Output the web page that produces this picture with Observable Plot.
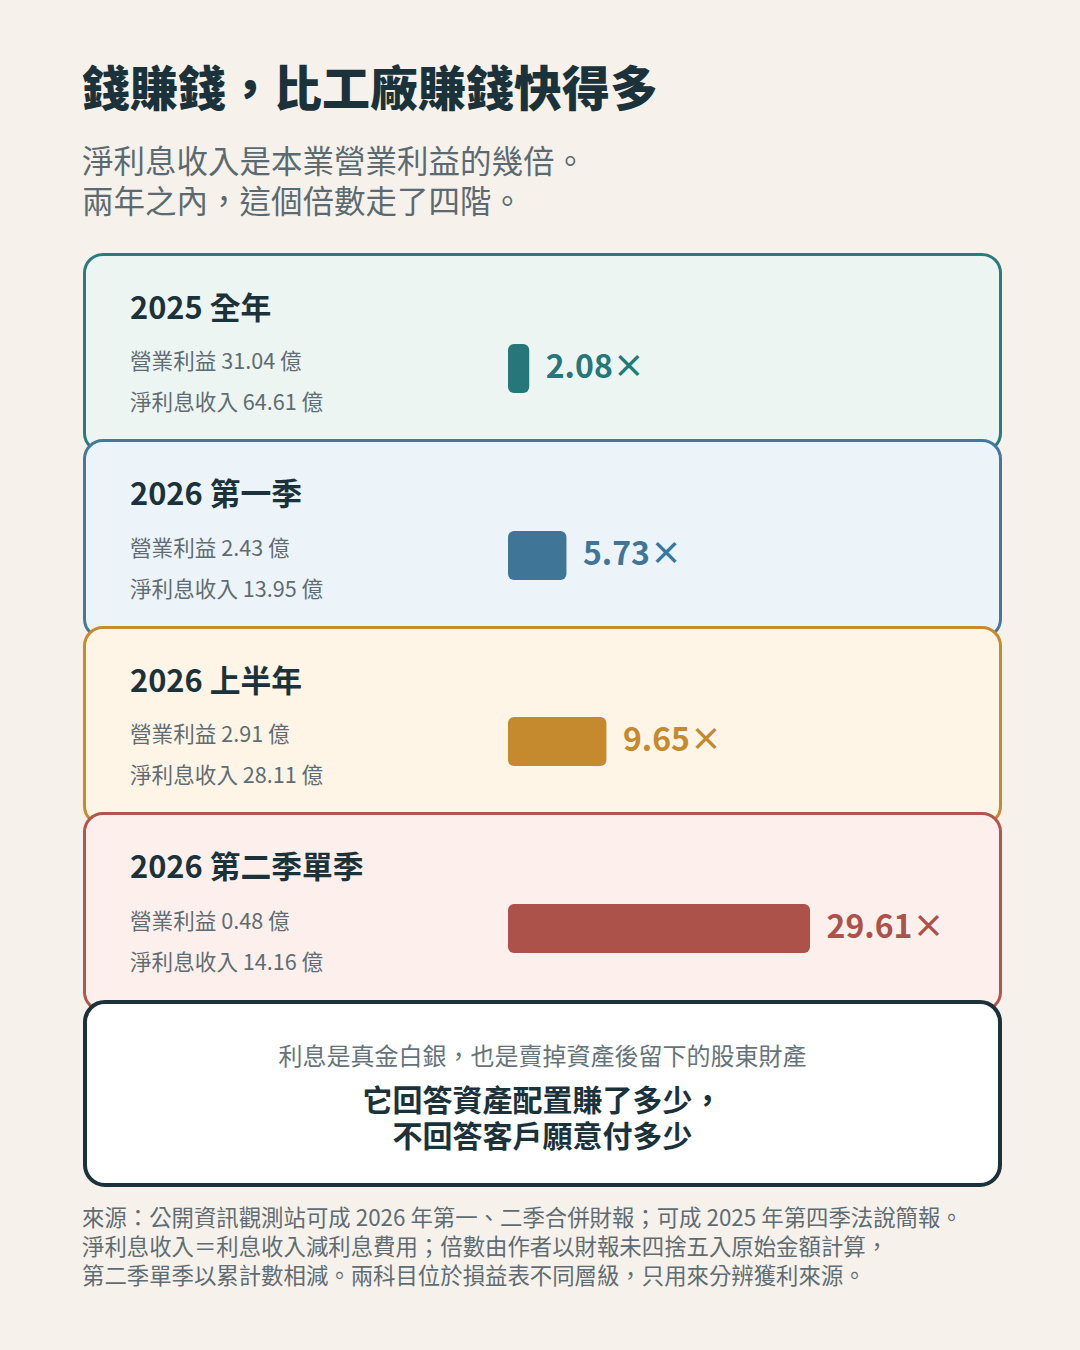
<!DOCTYPE html>
<html lang="zh-Hant">
<head>
<meta charset="utf-8">
<script src="https://cdn.jsdelivr.net/npm/d3@7"></script>
<script src="https://cdn.jsdelivr.net/npm/@observablehq/plot@0.6"></script>
<style>
  html, body { margin: 0; padding: 0; background: #f6f2eb; }
  body { width: 1080px; height: 1350px; position: relative; overflow: hidden;
         font-family: "Noto Sans CJK TC", "Noto Sans", sans-serif; }
  .abs { position: absolute; white-space: nowrap; }
  #title { left: 82px; top: 61px; font-size: 48px; line-height: 48px; font-weight: 900; color: #1b323a; }
  #subtitle { left: 82px; top: 139px; font-size: 31.5px; color: #5b6a71; }
  #subtitle div, #foot div, #final .b div { white-space: nowrap; }
  #subtitle div { height: 40px; line-height: 40px; }
  .card { position: absolute; left: 83px; width: 919px; height: 200px; box-sizing: border-box;
          border: 3px solid; border-radius: 20px; }
  .card .ct { position: absolute; left: 44px; top: 35px; font-size: 30.8px; line-height: 30px; font-weight: 700; color: #1b323a; white-space: nowrap; }
  .card .l1, .card .l2 { position: absolute; left: 44px; font-size: 21.6px; line-height: 22px; color: #5f6c73; white-space: nowrap; }
  .card .l1 { top: 93.5px; }
  .card .l2 { top: 134.5px; }
  .card .plot { position: absolute; left: 422px; top: 88.5px; }
  #final { position: absolute; left: 83px; top: 999.5px; width: 919px; height: 187px; box-sizing: border-box;
           border: 4px solid #1b323a; border-radius: 22px; background: #ffffff; text-align: center; }
  #final .g { position: absolute; left: 0; right: 0; top: 39px; font-size: 24px; line-height: 24px; color: #66737a; }
  #final .b { position: absolute; left: 0; right: 0; top: 76px; font-size: 30px; font-weight: 700; color: #1b323a; }
  #final .b div { height: 36px; line-height: 36px; }
  #foot { left: 82px; top: 1202px; font-size: 22.4px; color: #5f6c73; }
  #foot div { height: 29px; line-height: 29px; }
</style>
</head>
<body>
<div id="title" class="abs">錢賺錢，比工廠賺錢快得多</div>
<div id="subtitle" class="abs"><div>淨利息收入是本業營業利益的幾倍。</div><div>兩年之內，這個倍數走了四階。</div></div>
<div id="cards"></div>
<div id="final">
  <div class="g">利息是真金白銀，也是賣掉資產後留下的股東財產</div>
  <div class="b"><div>它回答資產配置賺了多少，</div><div>不回答客戶願意付多少</div></div>
</div>
<div id="foot" class="abs"><div>來源：公開資訊觀測站可成 2026 年第一、二季合併財報；可成 2025 年第四季法說簡報。</div><div>淨利息收入＝利息收入減利息費用；倍數由作者以財報未四捨五入原始金額計算，</div><div>第二季單季以累計數相減。兩科目位於損益表不同層級，只用來分辨獲利來源。</div></div>

<script>
// ---- data ----
const periods = ["2025 全年", "2026 第一季", "2026 上半年", "2026 第二季單季"];
const operatingIncome = [31.04, 2.43, 2.91, 0.48];   // 營業利益（億）
const netInterestIncome = [64.61, 13.95, 28.11, 14.16]; // 淨利息收入（億）
const multiples = [2.08, 5.73, 9.65, 29.61];          // 倍數

// ---- styles ----
const mainColors = ["#25777a", "#3f7596", "#c58a2d", "#ad524a"];
const bgColors = ["#ecf5f2", "#ecf4fa", "#fef5e6", "#fdf0ec"];
const borderColors = ["#2a7c7c", "#44799b", "#c68b2c", "#b3544e"];

const rows = periods.map((p, i) => ({
  period: p, op: operatingIncome[i], nii: netInterestIncome[i], multiple: multiples[i]
}));

const container = document.getElementById("cards");
rows.forEach((row, i) => {
  const card = document.createElement("div");
  card.className = "card";
  card.style.top = (252.5 + i * 186.5) + "px";
  card.style.background = bgColors[i];
  card.style.borderColor = borderColors[i];
  card.style.zIndex = i + 1;
  card.innerHTML = `<div class="ct">${row.period}</div>
    <div class="l1">營業利益 ${row.op.toFixed(2)} 億</div>
    <div class="l2">淨利息收入 ${row.nii.toFixed(2)} 億</div>`;
  const chart = Plot.plot({
    width: 480,
    height: 49,
    margin: 0,
    x: { domain: [0, 30], range: [0, 306], axis: null },
    y: { domain: [row.period], axis: null, padding: 0 },
    style: { background: "transparent", fontFamily: "'Noto Sans CJK TC', sans-serif", overflow: "visible" },
    marks: [
      Plot.barX([row], { x: "multiple", y: "period", fill: mainColors[i], rx: 6 }),
      Plot.text([row], {
        x: "multiple", y: "period",
        text: d => d.multiple.toFixed(2) + "×",
        dx: 16, dy: -1.5, textAnchor: "start",
        fill: mainColors[i], fontSize: 32, fontWeight: 700
      })
    ]
  });
  const wrap = document.createElement("div");
  wrap.className = "plot";
  wrap.appendChild(chart);
  card.appendChild(wrap);
  container.appendChild(card);
});
document.getElementById("final").style.zIndex = 10;
</script>
</body>
</html>
